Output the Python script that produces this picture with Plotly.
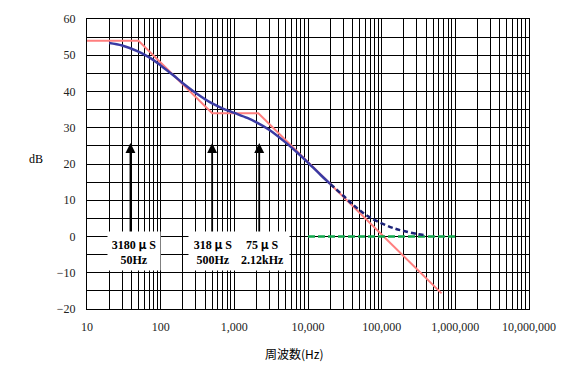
import plotly.graph_objects as go

# ---- data ----
red_f = [10, 50, 500, 2120, 650000]
red_db = [54, 54, 34, 34, -15.7]

blue_f = [20, 30, 50, 70, 100, 150, 200, 300, 500, 700, 1000, 1500, 2000,
          3000, 5000, 7000, 10000, 15000, 20000]
blue_db = [53.4, 52.7, 51.0, 49.4, 47.2, 44.4, 42.3, 39.6, 36.7, 35.3, 34.1,
           32.7, 31.5, 29.4, 25.9, 23.3, 20.4, 16.9, 14.5]

dash_f = [20000, 30000, 40000, 50000, 70000, 100000, 150000, 200000, 300000, 380000]
dash_db = [14.5, 11.3, 8.9, 7.3, 5.2, 3.6, 2.2, 1.5, 0.7, 0.4]

green_f = [10000, 1000000]
green_db = [0, 0]

x_tick_vals = [m * 10 ** k for k in range(1, 7) for m in range(1, 10)] + [10 ** 7]
x_tick_text = [("{:,}".format(m * 10 ** k) if m == 1 else "")
               for k in range(1, 7) for m in range(1, 10)] + ["10,000,000"]

notes = [("3180", "50Hz"), ("318", "500Hz"), ("75", "2.12kHz")]

SERIF = "Times New Roman, Liberation Serif, serif"
MU = "<span style=\"font-family:'Noto Sans CJK JP'\"> μ </span>"

fig = go.Figure()
fig.add_trace(go.Scatter(x=red_f, y=red_db, mode="lines",
                         line=dict(color="#ff7f7f", width=2), hoverinfo="skip"))
fig.add_trace(go.Scatter(x=green_f, y=green_db, mode="lines",
                         line=dict(color="#0fa84a", width=2.5, dash="7px,3px"), hoverinfo="skip"))
fig.add_trace(go.Scatter(x=dash_f, y=dash_db, mode="lines",
                         line=dict(color="#1c2378", width=2.5, dash="5px,3px", shape="spline"),
                         hoverinfo="skip"))
fig.add_trace(go.Scatter(x=blue_f, y=blue_db, mode="lines",
                         line=dict(color="#3a3aa3", width=2.5, shape="spline"), hoverinfo="skip"))

# arrows (log10 x positions for annotations on log axis)
arrow_x = [1.59, 2.699, 3.338]
for ax_ in arrow_x:
    fig.add_annotation(x=ax_, y=25.8, ax=ax_, ay=0.5, xref="x", yref="y",
                       axref="x", ayref="y", text="", showarrow=True,
                       arrowhead=2, arrowsize=1.1, arrowwidth=1.8, arrowcolor="black",
                       standoff=0, startstandoff=0)

# white label boxes
box_x = [1.635, 2.704, 3.382]
box_w = [52, 48, 53]
for (num, l2), bx, bw in zip(notes, box_x, box_w):
    fig.add_annotation(x=bx, y=-3.9, xref="x", yref="y", showarrow=False,
                       text="<b>%s%sS</b><br><b>%s</b>" % (num, MU, l2),
                       font=dict(family=SERIF, size=12, color="black"),
                       bgcolor="white", width=bw, height=38, borderpad=0,
                       align="center")

fig.add_annotation(x=-0.115, y=0.518, xref="paper", yref="paper", text="dB",
                   xanchor="center", yanchor="middle",
                   showarrow=False, font=dict(family=SERIF, size=12, color="black"))
fig.add_annotation(x=0.47, y=-0.155, xref="paper", yref="paper", text="周波数(Hz)",
                   xanchor="center", yanchor="middle", showarrow=False,
                   font=dict(family="Noto Sans CJK JP, sans-serif", size=12, color="black"))

fig.update_layout(
    width=568, height=372,
    margin=dict(l=87, r=37, t=17, b=63),
    paper_bgcolor="white", plot_bgcolor="white",
    showlegend=False,
    font=dict(family=SERIF, size=12, color="#222"),
    xaxis=dict(type="log", range=[1, 7], tickmode="array",
               tickvals=x_tick_vals, ticktext=x_tick_text,
               showgrid=True, gridcolor="black", gridwidth=1,
               showline=True, linecolor="black", linewidth=1, mirror=True,
               ticks="", zeroline=False, ticklabelstandoff=7,
               tickfont=dict(family=SERIF, size=12, color="#222")),
    yaxis=dict(range=[-20, 60], dtick=10, tick0=0,
               showgrid=True, gridcolor="black", gridwidth=1,
               minor=dict(dtick=5, showgrid=True, gridcolor="black", gridwidth=1),
               showline=True, linecolor="black", linewidth=1, mirror=True,
               ticks="", zeroline=False, ticklabelstandoff=8,
               tickfont=dict(family=SERIF, size=12, color="#222")),
)

fig.write_html("out.html", config={"displayModeBar": False},
               post_script="document.body.style.margin='0';document.body.style.padding='0';")
